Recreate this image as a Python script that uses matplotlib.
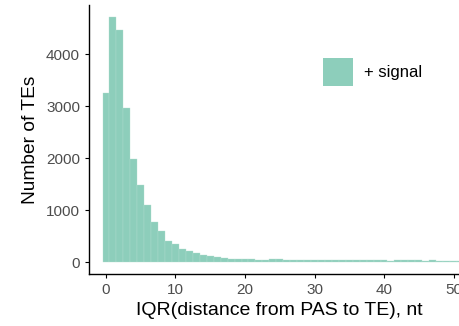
"""Histogram of IQR distance from PAS to TE (ggplot theme_classic look)."""
import matplotlib
import matplotlib.pyplot as plt
from matplotlib.patches import Patch

matplotlib.use("Agg")

plt.rcParams["font.family"] = ["Liberation Sans", "DejaVu Sans"]

# bin centres (binwidth = 1) and counts
bins = list(range(0, 53))
counts = [
    3256, 4717, 4462, 2956, 1975, 1481, 1096, 775, 596, 410,
    346, 256, 212, 179, 129, 115, 100, 83, 62, 66,
    58, 50, 46, 47, 55, 50, 44, 42, 40, 38,
    36, 35, 34, 36, 33, 32, 34, 31, 30, 32,
    30, 29, 31, 34, 37, 30, 28, 30, 29, 27,
    28, 27, 26,
]
x_ticks = [0, 10, 20, 30, 40, 50]
y_ticks = [0, 1000, 2000, 3000, 4000]
series_label = "+ signal"

_FILL = "#8DCEBB"   # Dark2 green at alpha 0.5 on white
_EDGE = "#B3DED0"
_TICK_TXT = "#4D4D4D"

W, H = 460, 326
fig = plt.figure(figsize=(W / 100, H / 100), dpi=100)

# axes placed in pixel terms; right edge runs past the figure (cropped plot)
left_px, right_px = 88.6, 470.9
top_px, bottom_px = 4.5, 274.3
ax = fig.add_axes([
    left_px / W,
    (H - bottom_px) / H,
    (right_px - left_px) / W,
    (bottom_px - top_px) / H,
])

ax.bar(bins, counts, width=1.0, color=_FILL, edgecolor=_EDGE,
       linewidth=0.25, label=series_label)

ymax = max(counts)
ax.set_xlim(-2.5, 52.5)
ax.set_ylim(-0.05 * ymax, 1.05 * ymax)
ax.set_xticks(x_ticks)
ax.set_yticks(y_ticks)

for side in ("top", "right"):
    ax.spines[side].set_visible(False)
for side in ("left", "bottom"):
    ax.spines[side].set_linewidth(1.0)
    ax.spines[side].set_color("black")

ax.tick_params(axis="both", length=3.2, width=0.8, color="black",
               labelsize=11, labelcolor=_TICK_TXT, pad=3)

ax.set_xlabel("IQR(distance from PAS to TE), nt", fontsize=14, labelpad=4)
ax.set_ylabel("Number of TEs", fontsize=13.8, labelpad=5)

fs = 12
fs_px = fs * 100 / 72
fig.legend(
    handles=[Patch(facecolor=_FILL, edgecolor="none", label=series_label)],
    loc="upper left",
    bbox_to_anchor=(322.7 / W, (H - 58.3) / H),
    frameon=False,
    fontsize=fs,
    borderpad=0, borderaxespad=0,
    handlelength=30 / fs_px,
    handleheight=36 / fs_px,
    handletextpad=0.7,
)

fig.savefig("out.png", dpi=100, facecolor="white")
plt.close(fig)
